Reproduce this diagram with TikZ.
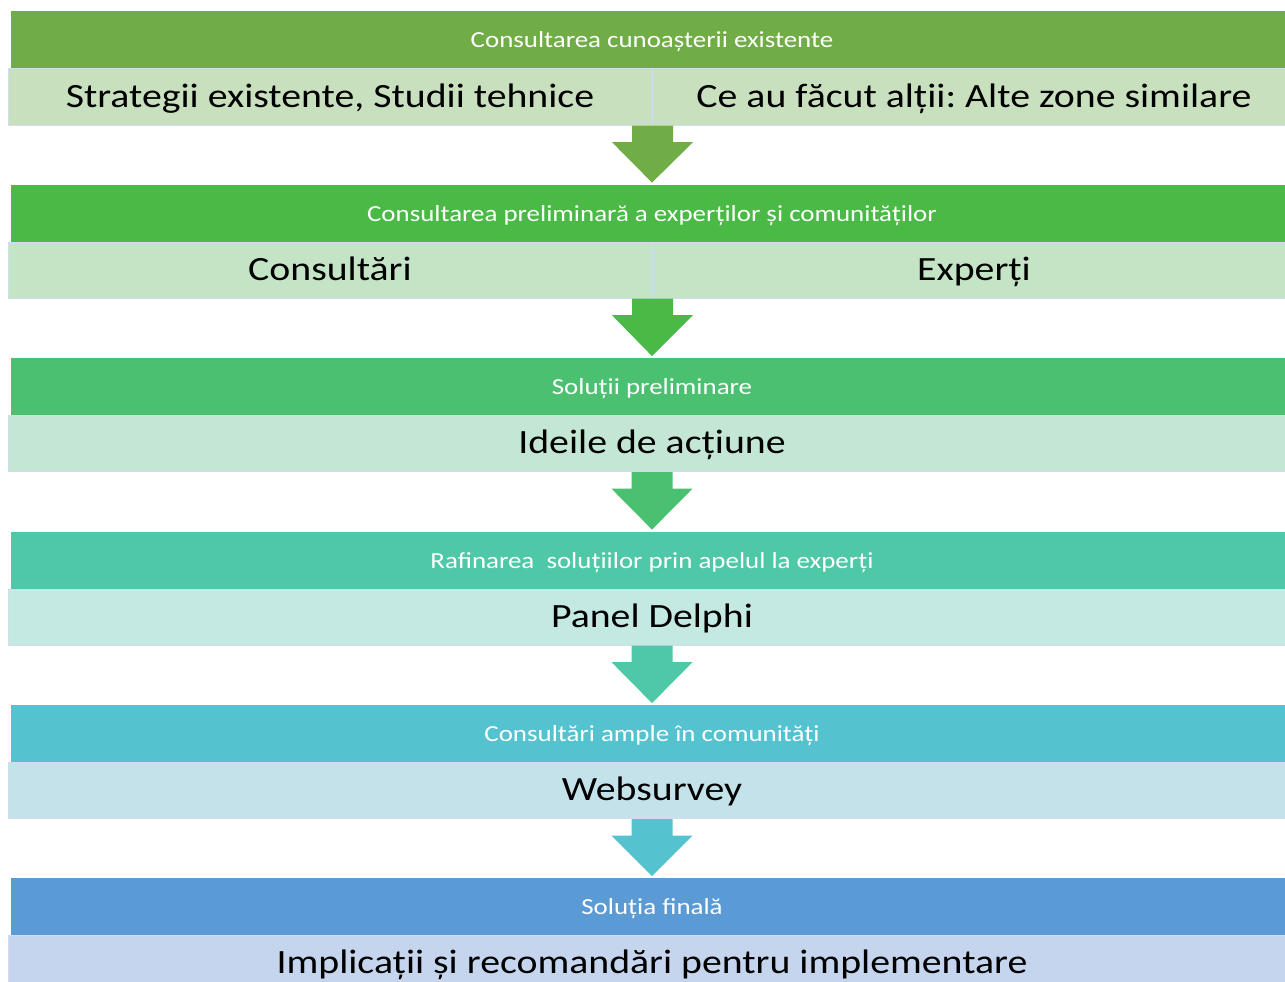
\documentclass[tikz,border=0pt]{standalone}
\usepackage{fontspec}
\setmainfont[FakeStretch=1.17]{Carlito}
\definecolor{hA}{HTML}{70AD47}
\definecolor{hB}{HTML}{4AB946}
\definecolor{hC}{HTML}{4BC070}
\definecolor{hD}{HTML}{4FC8A7}
\definecolor{hE}{HTML}{55C2CF}
\definecolor{hF}{HTML}{5B9BD5}
\definecolor{sA}{HTML}{C9E0BF}
\definecolor{sB}{HTML}{C4E4C6}
\definecolor{sC}{HTML}{C4E6D4}
\definecolor{sD}{HTML}{C4E8E2}
\definecolor{sE}{HTML}{C4E2EA}
\definecolor{sF}{HTML}{C5D5ED}
\definecolor{edge}{HTML}{D2DCEA}
\newcommand\blkarrow[3]{%
  \fill[#3] ([xshift=-20.5pt]#1) -- ([xshift=20.5pt]#1) -- ([xshift=20.5pt,yshift=-16.7pt]#1)
   -- ([xshift=40.5pt,yshift=-16.7pt]#1) -- ([yshift=1.7pt]#2)
   -- ([xshift=-40.5pt,yshift=-16.7pt]#1) -- ([xshift=-20.5pt,yshift=-16.7pt]#1) -- cycle;}
\frenchspacing
\begin{document}
\begin{tikzpicture}[x=1pt,y=-1pt,
  hdr/.style={rectangle,inner sep=0pt,minimum width=1282pt,minimum height=58pt,text=white,
    font=\fontsize{23}{27}\selectfont,text height=18pt,text depth=2.5pt},
  subrow/.style={rectangle,inner sep=0pt,minimum width=1288pt,minimum height=56pt,draw=edge,line width=1pt,
    font=\fontsize{34}{40}\selectfont,text height=27pt,text depth=7pt},
  halfrow/.style={subrow,minimum width=644pt}]
\useasboundingbox (0,0) rectangle (1285,982);
% band 1
\node[hdr,fill=hA] (h1) at (652,40) {Consultarea cunoașterii existente};
\node[halfrow,fill=sA] (s1a) at (330,97) {Strategii existente, Studii tehnice};
\node[halfrow,fill=sA] (s1b) at (974,97) {Ce au făcut alții: Alte zone similare};
% band 2
\node[hdr,fill=hB] (h2) at (652,213.5) {Consultarea preliminară a experților și comunităților};
\node[halfrow,fill=sB] (s2a) at (330,270) {Consultări};
\node[halfrow,fill=sB] (s2b) at (974,270) {Experți};
% band 3
\node[hdr,fill=hC] (h3) at (652,387) {Soluții preliminare};
\node[subrow,fill=sC] (s3) at (652,443.5) {Ideile de acțiune};
% band 4
\node[hdr,fill=hD] (h4) at (652,560.5) {Rafinarea\ \ soluțiilor prin apelul la experți};
\node[subrow,fill=sD] (s4) at (652,617) {Panel Delphi};
% band 5
\node[hdr,fill=hE] (h5) at (652,734) {Consultări ample în comunități};
\node[subrow,fill=sE] (s5) at (652,790.5) {Websurvey};
% band 6
\node[hdr,fill=hF] (h6) at (652,907) {Soluția finală};
\node[subrow,fill=sF] (s6) at (652,963) {Implicații și recomandări pentru implementare};
% arrows
\blkarrow{s1a.south east}{h2.north}{hA}
\blkarrow{s2a.south east}{h3.north}{hB}
\blkarrow{s3.south}{h4.north}{hC}
\blkarrow{s4.south}{h5.north}{hD}
\blkarrow{s5.south}{h6.north}{hE}
\end{tikzpicture}
\end{document}
